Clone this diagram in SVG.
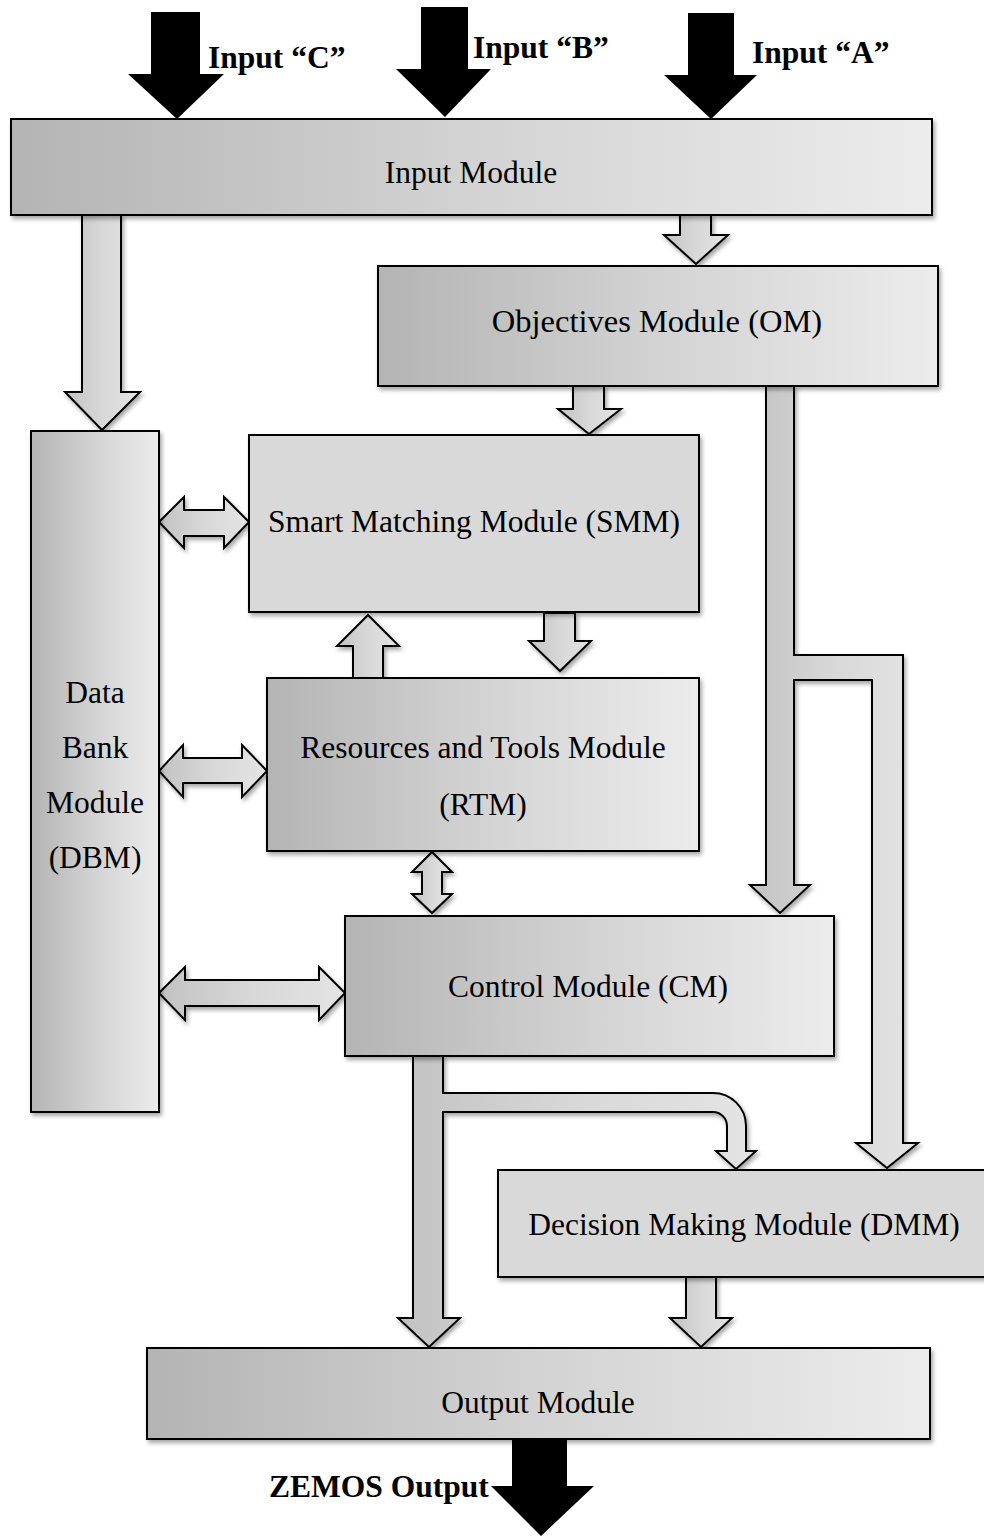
<svg xmlns="http://www.w3.org/2000/svg" width="984" height="1536" viewBox="0 0 984 1536">
<defs>
<linearGradient id="gBox" x1="0" y1="0" x2="1" y2="0">
<stop offset="0" stop-color="#b4b4b4"/><stop offset="0.5" stop-color="#d3d3d3"/><stop offset="1" stop-color="#ececec"/>
</linearGradient>
<linearGradient id="gArr" x1="0" y1="0" x2="1" y2="0">
<stop offset="0" stop-color="#c2c2c2"/><stop offset="0.5" stop-color="#d8d8d8"/><stop offset="1" stop-color="#e4e4e4"/>
</linearGradient>
<filter id="sh" x="-10%" y="-10%" width="130%" height="130%">
<feDropShadow dx="2" dy="3" stdDeviation="2" flood-color="#000" flood-opacity="0.35"/>
</filter>
<style>
.box{fill:url(#gBox);stroke:#000;stroke-width:2;filter:url(#sh)}
.flat{fill:#d9d9d9;stroke:#000;stroke-width:2;filter:url(#sh)}
.arr{fill:url(#gArr);stroke:#000;stroke-width:2;stroke-linejoin:miter;filter:url(#sh)}
.blk{fill:#000;stroke:none}
.t{font-family:"Liberation Serif","Times New Roman",serif;font-size:31.5px;fill:#000;text-anchor:middle}
.b{font-family:"Liberation Serif","Times New Roman",serif;font-size:31.5px;font-weight:bold;fill:#000}
</style>
</defs>
<rect width="984" height="1536" fill="#fff"/>

<g id="connectors">
<polygon class="arr" points="82,215 82,392 65,392 102,430 140,392 121,392 121,215"/>
<polygon class="arr" points="680,215 680,235 664,235 696,264 728,235 711,235 711,215"/>
<polygon class="arr" points="573,386 573,409 558,409 589,434 621,409 604,409 604,386"/>
<path class="arr" d="M766,386 L766,885 L750,885 L780,913 L810,885 L794,885 L794,680 L872,680 L872,1143 L856,1143 L887,1168 L918,1143 L903,1143 L903,655 L794,655 L794,386 Z"/>
<polygon class="arr" points="159,522 184,497 184,510 224,510 224,497 249,522 224,548 224,536 184,536 184,548"/>
<polygon class="arr" points="353,678 353,646 337,646 368,615 399,646 383,646 383,678"/>
<polygon class="arr" points="544,613 544,641 529,641 560,671 591,641 575,641 575,613"/>
<polygon class="arr" points="159,771 183,745 183,758 242,758 242,745 267,771 242,797 242,783 183,783 183,797"/>
<polygon class="arr" points="432,852 452,872 442,872 442,894 452,894 432,913 412,894 422,894 422,872 412,872"/>
<polygon class="arr" points="159,993 185,967 185,980 319,980 319,967 345,993 319,1020 319,1006 185,1006 185,1020"/>
<path class="arr" d="M413,1056 L413,1318 L398,1318 L429,1347 L460,1318 L443,1318 L443,1112 L713,1112 A14,14 0 0 1 727,1126 L727,1151 L716,1151 L736,1169 L756,1151 L746,1151 L746,1126 A33,33 0 0 0 713,1093 L443,1093 L443,1056 Z"/>
<polygon class="arr" points="686,1277 686,1318 670,1318 701,1347 732,1318 716,1318 716,1277"/>
<polygon class="blk" points="151,12 151,74 128,74 177,119 224,74 200,74 200,12"/>
<polygon class="blk" points="421,7 421,69 396,69 445,117 491,69 468,69 468,7"/>
<polygon class="blk" points="688,13 688,75 664,75 711,119 757,75 734,75 734,13"/>
</g>

<g id="input-labels">
<text class="b" x="208" y="68">Input “C”</text>
<text class="b" x="473" y="58">Input “B”</text>
<text class="b" x="752" y="63">Input “A”</text>
</g>

<g id="input-module">
<rect class="box" x="11" y="119" width="921" height="96"/>
<text class="t" x="471" y="183">Input Module</text>
</g>
<g id="objectives-module">
<rect class="box" x="378" y="266" width="560" height="120"/>
<text class="t" x="657" y="332" style="font-size:32.5px">Objectives Module (OM)</text>
</g>
<g id="smart-matching-module">
<rect class="flat" x="249" y="435" width="450" height="177"/>
<text class="t" x="474" y="532">Smart Matching Module (SMM)</text>
</g>
<g id="resources-tools-module">
<rect class="box" x="267" y="678" width="432" height="173"/>
<text class="t" x="483" y="758">Resources and Tools Module</text>
<text class="t" x="483" y="815">(RTM)</text>
</g>
<g id="data-bank-module">
<rect class="box" x="31" y="431" width="128" height="681"/>
<text class="t" x="95" y="703">Data</text>
<text class="t" x="95" y="758">Bank</text>
<text class="t" x="95" y="813">Module</text>
<text class="t" x="95" y="868">(DBM)</text>
</g>
<g id="control-module">
<rect class="box" x="345" y="916" width="489" height="140"/>
<text class="t" x="588" y="997">Control Module (CM)</text>
</g>
<g id="decision-making-module">
<rect class="flat" x="498" y="1170" width="490" height="107"/>
<text class="t" x="744" y="1235">Decision Making Module (DMM)</text>
</g>
<g id="output-module">
<rect class="box" x="147" y="1348" width="783" height="91"/>
<text class="t" x="538" y="1413">Output Module</text>
</g>
<g id="zemos-output">
<text class="b" x="269" y="1497">ZEMOS Output</text>
<polygon class="blk" points="512,1439 512,1486 491,1486 541,1536 594,1486 567,1486 567,1439"/>
</g>
</svg>
